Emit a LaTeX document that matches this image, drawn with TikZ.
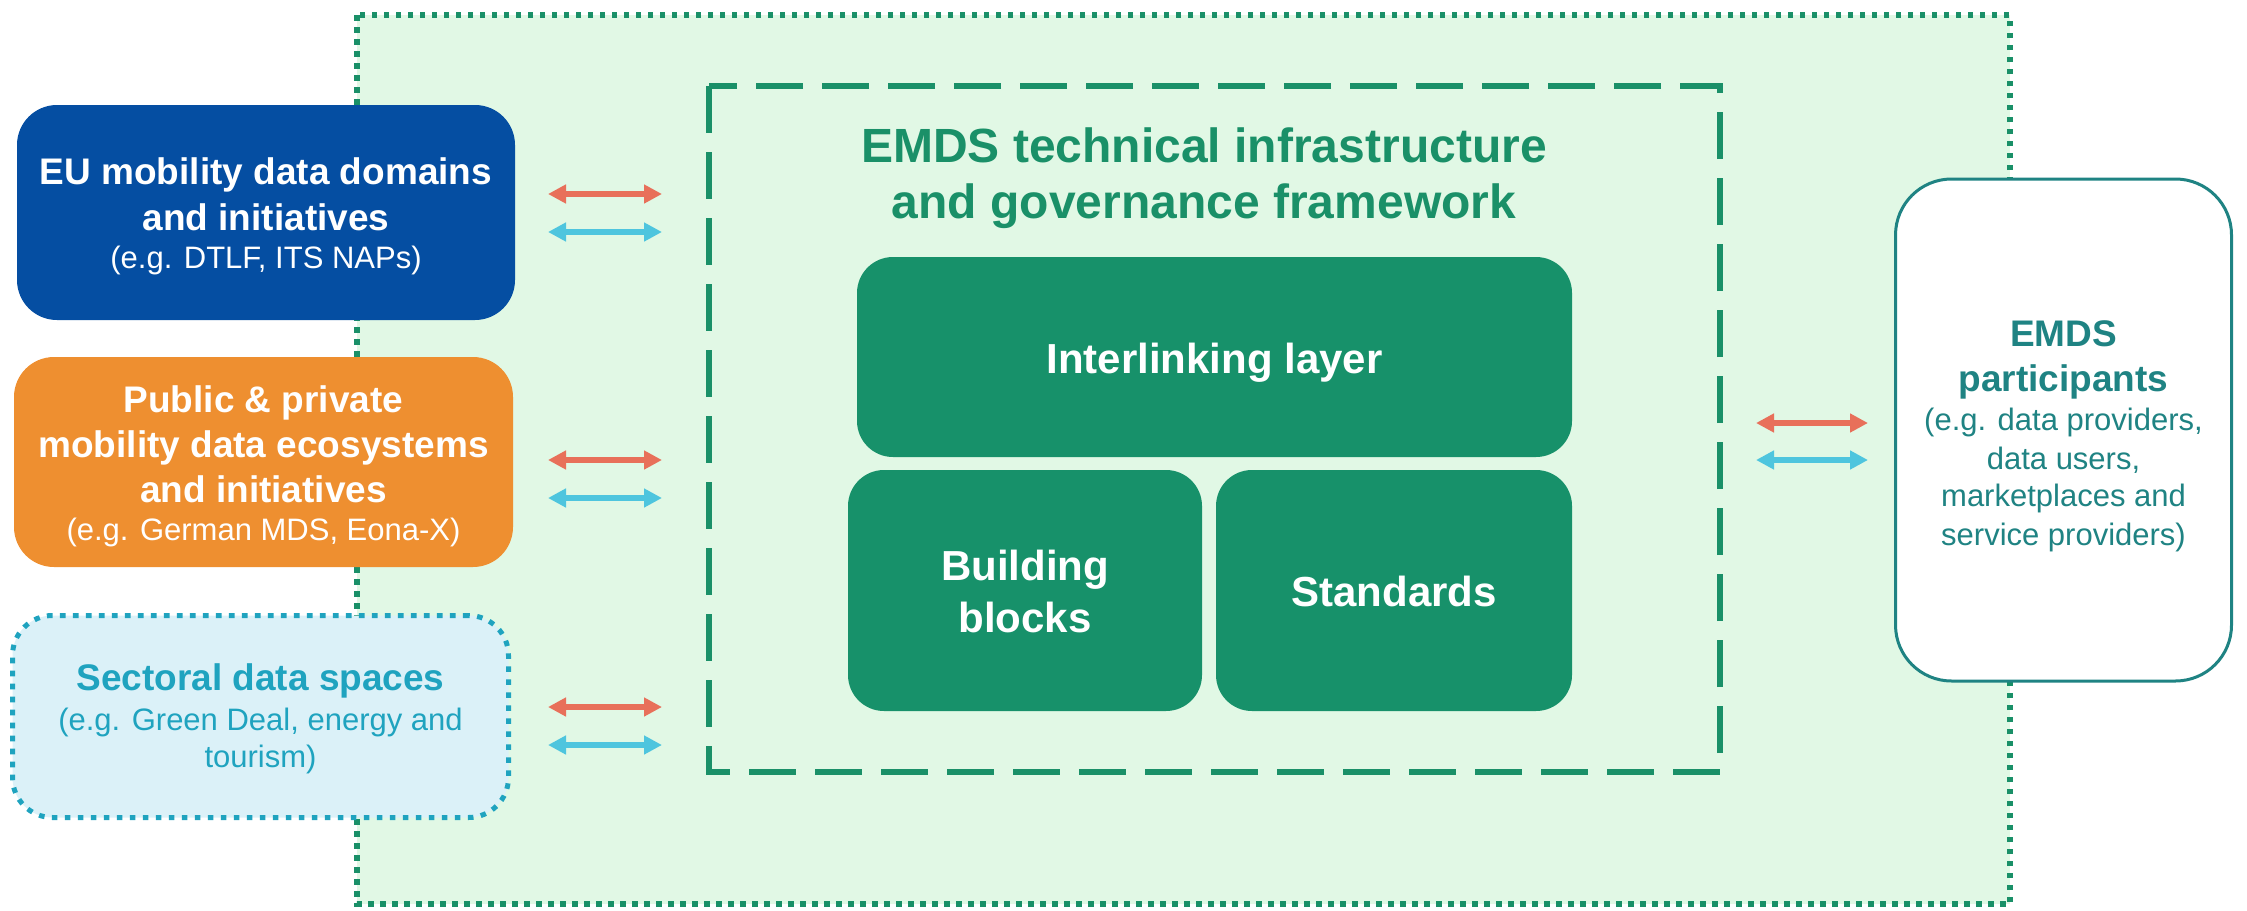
\documentclass[tikz,border=0pt]{standalone}
\usepackage{fontspec}
\setmainfont{Liberation Sans}
\usetikzlibrary{arrows.meta}
\definecolor{outerfill}{HTML}{E1F8E5}
\definecolor{darkgreen}{HTML}{1A9068}
\definecolor{boxgreen}{HTML}{17916A}
\definecolor{eublue}{HTML}{054EA2}
\definecolor{orangebox}{HTML}{EE8F30}
\definecolor{sectfill}{HTML}{DBF1F8}
\definecolor{sectline}{HTML}{1FA3BF}
\definecolor{teal}{HTML}{1F8383}
\definecolor{arrred}{HTML}{E8705A}
\definecolor{arrblue}{HTML}{4EC5DE}
\tikzset{
  x=0.5pt, y=-0.5pt,
  box/.style={rectangle, rounded corners=20pt, inner sep=0pt, draw=none},
  inner/.style={box, fill=boxgreen, rounded corners=18pt},
  ttl/.style={anchor=base, inner sep=0pt, font=\fontsize{18.5}{22}\selectfont\bfseries},
  sub/.style={anchor=base, inner sep=0pt, font=\fontsize{15.5}{18}\selectfont},
  ctr/.style={anchor=base, inner sep=0pt, font=\fontsize{24}{28}\selectfont\bfseries, text=darkgreen},
  inn/.style={anchor=base, inner sep=0pt, font=\fontsize{21}{25}\selectfont\bfseries, text=white},
  biarrow/.style={line width=3pt, {Triangle[length=9pt,width=9pt]}-{Triangle[length=9pt,width=9pt]}},
  redarr/.style={biarrow, draw=arrred, fill=arrred},
  bluearr/.style={biarrow, draw=arrblue, fill=arrblue},
}
\begin{document}
\begin{tikzpicture}
\useasboundingbox (0,0) rectangle (2247,910);
% outer dotted area
\draw[fill=outerfill, draw=darkgreen, line width=2.75pt, dash pattern=on 2.75pt off 3.25pt]
  (357,15) rectangle (2010,904);
% dashed frame
\draw[draw=darkgreen, line width=3pt, dash pattern=on 23.5pt off 9.5pt]
  (709,86) rectangle (1720,772);
\node[ctr] (ct1) at (1204,162) {EMDS technical infrastructure};
\node[ctr] (ct2) at (1204,218) {and governance framework};
% inner boxes
\node[inner, minimum width=357.5pt, minimum height=100pt] (inter) at (1214.5,357) {};
\node[inner, minimum width=177pt, minimum height=120.5pt] (build) at (1025,590.5) {};
\node[inner, minimum width=178pt, minimum height=120.5pt] (stand) at (1394,590.5) {};
\node[inn] (tinter) at (1214.5,373) {Interlinking layer};
\node[inn] (tbuild1) at (1025,580) {Building};
\node[inn] (tbuild2) at (1025,632) {blocks};
\node[inn] (tstand) at (1394,606) {Standards};
% left boxes
\node[box, fill=eublue, minimum width=249pt, minimum height=107.5pt] (eu) at (266,212.5) {};
\node[ttl, text=white] (eu1) at (266,184) {EU mobility data domains};
\node[ttl, text=white] (eu2) at (266,230) {and initiatives};
\node[sub, text=white] (eu3) at (266,268) {(e.g. DTLF, ITS NAPs)};
\node[box, fill=orangebox, minimum width=249.5pt, minimum height=105pt] (pp) at (263.5,462) {};
\node[ttl, text=white] (pp1) at (263.5,412) {Public \& private};
\node[ttl, text=white] (pp2) at (263.5,457) {mobility data ecosystems};
\node[ttl, text=white] (pp3) at (263.5,502) {and initiatives};
\node[sub, text=white] (pp4) at (263.5,540) {(e.g. German MDS, Eona-X)};
\node[box, fill=sectfill, draw=sectline, line width=2.5pt, dash pattern=on 2.8pt off 3.7pt, minimum width=248pt, minimum height=101pt] (sd) at (260.5,716.5) {};
\node[ttl, text=sectline] (sd1) at (260.5,690) {Sectoral data spaces};
\node[sub, text=sectline] (sd2) at (260.5,730) {(e.g. Green Deal, energy and};
\node[sub, text=sectline] (sd3) at (260.5,767) {tourism)};
% right box
\node[box, fill=white, draw=teal, line width=1.5pt, rounded corners=28pt, minimum width=168pt, minimum height=251pt] (pa) at (2063.5,430) {};
\node[ttl, text=teal] (pa1) at (2063.5,346) {EMDS};
\node[ttl, text=teal] (pa2) at (2063.5,391) {participants};
\node[sub, text=teal] (pa3) at (2063.5,430) {(e.g. data providers,};
\node[sub, text=teal] (pa4) at (2063.5,469) {data users,};
\node[sub, text=teal] (pa5) at (2063.5,506) {marketplaces and};
\node[sub, text=teal] (pa6) at (2063.5,545) {service providers)};
% arrow end points
\coordinate (a1l) at (548,194); \coordinate (a1r) at (662,194);
\coordinate (b1l) at (548,232); \coordinate (b1r) at (662,232);
\coordinate (a2l) at (548,460); \coordinate (a2r) at (662,460);
\coordinate (b2l) at (548,498); \coordinate (b2r) at (662,498);
\coordinate (a3l) at (548,707); \coordinate (a3r) at (662,707);
\coordinate (b3l) at (548,745); \coordinate (b3r) at (662,745);
\coordinate (a4l) at (1756,423); \coordinate (a4r) at (1868,423);
\coordinate (b4l) at (1756,460); \coordinate (b4r) at (1868,460);
\draw[redarr] (a1l) -- (a1r);
\draw[bluearr] (b1l) -- (b1r);
\draw[redarr] (a2l) -- (a2r);
\draw[bluearr] (b2l) -- (b2r);
\draw[redarr] (a3l) -- (a3r);
\draw[bluearr] (b3l) -- (b3r);
\draw[redarr] (a4l) -- (a4r);
\draw[bluearr] (b4l) -- (b4r);
\end{tikzpicture}
\end{document}
